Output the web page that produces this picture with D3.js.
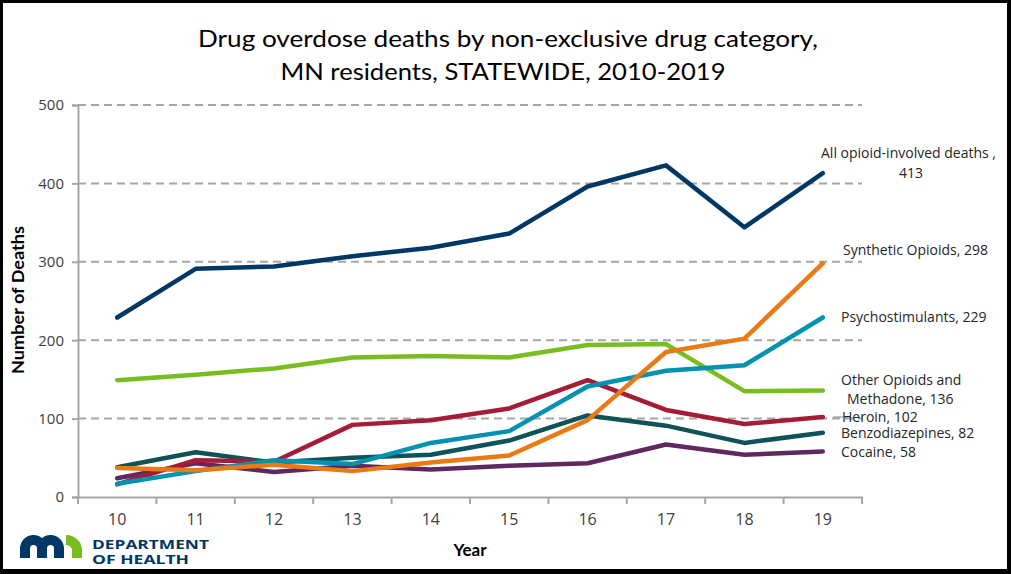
<!DOCTYPE html>
<html>
<head>
<meta charset="utf-8">
<script src="https://cdn.jsdelivr.net/npm/d3@7"></script>
<style>
  html, body { margin: 0; padding: 0; background: #000; }
  svg { display: block; }
</style>
</head>
<body>
<svg id="chart" width="1011" height="574"></svg>
<script>
// ---- Data ----
const years = ["10", "11", "12", "13", "14", "15", "16", "17", "18", "19"];
const yTicks = [0, 100, 200, 300, 400, 500];

const allOpioid     = [229, 291, 294, 307, 318, 336, 396, 423, 344, 413];
const otherOpioids  = [149, 156, 164, 178, 180, 178, 194, 195, 135, 136];
const heroin        = [16, 47, 45, 92, 98, 113, 149, 111, 93, 102];
const psychostim    = [17, 33, 47, 42, 69, 84, 141, 161, 168, 229];
const benzo         = [38, 57, 44, 50, 54, 72, 104, 91, 69, 82];
const synthetic     = [37, 34, 41, 33, 44, 53, 98, 185, 202, 298];
const cocaine       = [24, 43, 32, 40, 35, 40, 43, 67, 54, 58];

const seriesNames = ["Cocaine", "Benzodiazepines", "Heroin", "Other Opioids and Methadone",
                     "Psychostimulants", "Synthetic Opioids", "All opioid-involved deaths"];
const seriesValues = [cocaine, benzo, heroin, otherOpioids, psychostim, synthetic, allOpioid];
const seriesColors = ["#5f2861", "#0f5257", "#a51c36", "#78be21", "#0092b0", "#ea7a14", "#003865"];

// ---- Layout ----
const svg = d3.select("#chart");
svg.append("rect").attr("x", 3).attr("y", 3).attr("width", 1004).attr("height", 566).attr("fill", "#fff");

const x = d3.scaleBand().domain(years).range([78, 862]).padding(0);
const y = d3.scaleLinear().domain([0, 500]).range([497, 105]);
const cx = d => x(d) + x.bandwidth() / 2;

const axisColor = "#a6a6a6";
const textColor = "#404040";

// gridlines
svg.append("g").selectAll("line").data(yTicks.filter(t => t > 0)).join("line")
  .attr("x1", 78).attr("x2", 862)
  .attr("y1", d => y(d)).attr("y2", d => y(d))
  .attr("stroke", axisColor).attr("stroke-width", 2).attr("stroke-dasharray", "8,5");

// y axis
const yAxis = d3.axisLeft(y).tickValues(yTicks).tickSize(6).tickPadding(8).tickFormat(d3.format("d"));
const gy = svg.append("g").attr("transform", "translate(78,0)").call(yAxis);
gy.select(".domain").attr("stroke", axisColor).attr("stroke-width", 2);
gy.selectAll(".tick line").attr("stroke", axisColor).attr("stroke-width", 2);
gy.selectAll(".tick text").attr("font-family", "'Open Sans', 'Noto Sans', sans-serif")
  .attr("font-size", 15).attr("fill", textColor);

// x axis
const xAxis = d3.axisBottom(x).tickSize(0).tickPadding(17);
const gx = svg.append("g").attr("transform", "translate(0,497)").call(xAxis);
gx.select(".domain").attr("stroke", axisColor).attr("stroke-width", 2);
gx.selectAll(".tick text").attr("font-family", "'Open Sans', 'Noto Sans', sans-serif")
  .attr("font-size", 16).attr("fill", textColor);
// boundary tick marks
const bounds = years.map(d => x(d)).concat([x.range()[1]]);
svg.append("g").selectAll("line").data(bounds).join("line")
  .attr("x1", d => d).attr("x2", d => d).attr("y1", 497).attr("y2", 504)
  .attr("stroke", axisColor).attr("stroke-width", 2);

// lines
const line = d3.line().x((d, i) => cx(years[i])).y(d => y(d));
svg.append("g").selectAll("path").data(seriesValues).join("path")
  .attr("d", d => line(d))
  .attr("fill", "none")
  .attr("stroke", (d, i) => seriesColors[i])
  .attr("stroke-width", 4.5)
  .attr("stroke-linecap", "round")
  .attr("stroke-linejoin", "round");

// end labels
const lblFont = "'Open Sans', 'Noto Sans', sans-serif";
const labels = [
  { t: "All opioid-involved deaths ,", x: 821, y: 158 },
  { t: "413", x: 911, y: 178, anchor: "middle" },
  { t: "Synthetic Opioids, 298", x: 843, y: 255 },
  { t: "Psychostimulants, 229", x: 841, y: 322 },
  { t: "Other Opioids and", x: 841, y: 385 },
  { t: "Methadone, 136", x: 847, y: 404 },
  { t: "Heroin, 102", x: 842, y: 422 },
  { t: "Benzodiazepines, 82", x: 841, y: 438 },
  { t: "Cocaine, 58", x: 841, y: 457 }
];
svg.append("g").selectAll("text").data(labels).join("text")
  .attr("x", d => d.x).attr("y", d => d.y)
  .attr("text-anchor", d => d.anchor || "start")
  .attr("font-family", lblFont).attr("font-size", 14).attr("fill", "#262626")
  .text(d => d.t);
svg.append("line").attr("x1", 833).attr("x2", 843).attr("y1", 417).attr("y2", 417)
  .attr("stroke", "#7f7f7f").attr("stroke-width", 1);

// title
const titleFont = "Lato, 'Noto Sans', sans-serif";
svg.append("text").attr("x", 508).attr("y", 47).attr("text-anchor", "middle")
  .attr("font-family", titleFont).attr("font-size", 24).attr("fill", "#000")
  .attr("textLength", 620).attr("lengthAdjust", "spacingAndGlyphs")
  .text("Drug overdose deaths by non-exclusive drug category,");
svg.append("text").attr("x", 503).attr("y", 80).attr("text-anchor", "middle")
  .attr("font-family", titleFont).attr("font-size", 24).attr("fill", "#000")
  .attr("textLength", 445).attr("lengthAdjust", "spacingAndGlyphs")
  .text("MN residents, STATEWIDE, 2010-2019");

// axis titles
svg.append("text").attr("transform", "translate(24,300) rotate(-90)").attr("text-anchor", "middle")
  .attr("font-family", titleFont).attr("font-size", 17).attr("font-weight", 700).attr("fill", "#000")
  .attr("textLength", 148).attr("lengthAdjust", "spacingAndGlyphs")
  .text("Number of Deaths");
svg.append("text").attr("x", 470).attr("y", 556).attr("text-anchor", "middle")
  .attr("font-family", titleFont).attr("font-size", 17).attr("font-weight", 700).attr("fill", "#000")
  .text("Year");

// logo
const navy = "#003865", green = "#78be21";
const logo = svg.append("g");
logo.append("path")
  .attr("d", "M25,558 V548.5 A8.5,8.5 0 0 1 42,548.5 V558 M42,548.5 A8.5,8.5 0 0 1 59,548.5 V558")
  .attr("fill", "none").attr("stroke", navy).attr("stroke-width", 10);
logo.append("path")
  .attr("d", "M66,540 A11,10 0 0 1 77,550 V558")
  .attr("fill", "none").attr("stroke", green).attr("stroke-width", 10);
logo.append("text").attr("x", 92).attr("y", 549)
  .attr("font-family", "'Open Sans', 'Noto Sans', sans-serif").attr("font-weight", 700)
  .attr("font-size", 13).attr("fill", navy)
  .attr("textLength", 117).attr("lengthAdjust", "spacingAndGlyphs").text("DEPARTMENT");
logo.append("text").attr("x", 92).attr("y", 564)
  .attr("font-family", "'Open Sans', 'Noto Sans', sans-serif").attr("font-weight", 700)
  .attr("font-size", 13).attr("fill", navy)
  .attr("textLength", 97).attr("lengthAdjust", "spacingAndGlyphs").text("OF HEALTH");
</script>
</body>
</html>
